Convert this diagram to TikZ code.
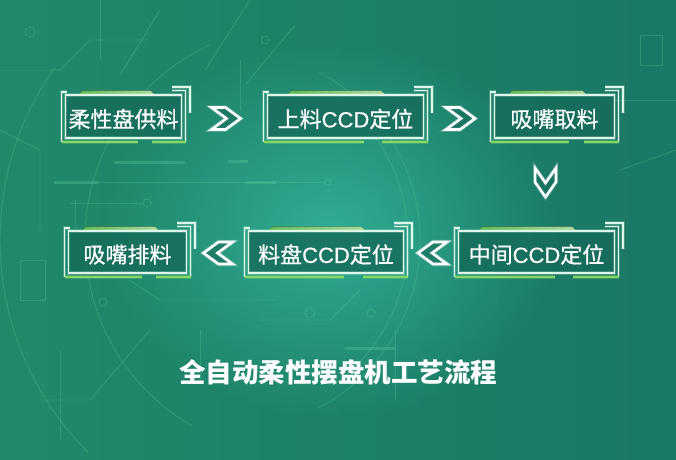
\documentclass[tikz,border=0pt]{standalone}
\usepackage{fontspec}
\newfontfamily\cjk{Noto Sans CJK SC}
\newfontfamily\cjkm{Noto Sans CJK SC}[FakeBold=0.6]
\newfontfamily\latf{Liberation Sans}[FakeBold=0.5]
\usetikzlibrary{calc,fadings}
\definecolor{bgA}{HTML}{21896A}
\definecolor{bgB}{HTML}{1A7866}
\definecolor{glowc}{HTML}{33B59C}
\definecolor{panelc}{HTML}{166B5A}
\definecolor{framec}{HTML}{DDF8E8}
\definecolor{tabA}{HTML}{6ACB5C}
\definecolor{tabB}{HTML}{BFEFAE}
\definecolor{segc}{HTML}{86D766}
\definecolor{decoc}{HTML}{5CD39C}
\tikzfading[name=glowfade, inner color=transparent!0, outer color=transparent!100]
\newcommand\ccdtext{{\latf CCD}}
\tikzset{
  frameline/.style={draw=framec, line width=1.1pt,
    preaction={draw=framec, line width=3.2pt, opacity=0.22}},
  segline/.style={draw=segc, line width=2pt,
    preaction={draw=segc, line width=4.2pt, opacity=0.3}},
  panel/.style={fill=panelc, fill opacity=0.82},
  steptext/.style={text=white, font=\cjkm\fontsize{22}{22}\selectfont, inner sep=0pt},
  titletext/.style={text=white, font=\cjk\bfseries\fontsize{26.5}{26.5}\selectfont, inner sep=0pt},
  chev/.style={draw=white, line width=2.6pt, line join=miter, fill=panelc, fill opacity=0.6,
    preaction={draw=white, line width=4.5pt, opacity=0.2}},
  deco/.style={draw=decoc, draw opacity=0.28, line width=0.9pt},
  decobar/.style={draw=decoc, draw opacity=0.3, line width=3pt},
}
\newcommand\procstep[6]{%
  \pgfmathsetmacro\pbL{#2}\pgfmathsetmacro\pbT{#3}%
  \pgfmathsetmacro\pbR{#4}\pgfmathsetmacro\pbB{#5}%
  \pgfmathsetmacro\pbW{\pbR-\pbL}%
  \pgfmathsetmacro\pbMy{(\pbT+8+\pbB-5)/2}%
  \fill[panel] ({\pbL+6.5},{\pbT+8}) rectangle ({\pbR-8.5},{\pbB-5});
  \fill[left color=tabA, right color=tabB, opacity=0.9]
    ({\pbL+0.15*\pbW},{\pbT+8}) -- ({\pbL+0.18*\pbW},{\pbT+3.5}) --
    ({\pbL+0.70*\pbW},{\pbT+3.5}) -- ({\pbL+0.73*\pbW},{\pbT+8}) -- cycle;
  \draw[frameline] ({\pbL+6.5},{\pbT+8}) rectangle ({\pbR-8.5},{\pbB-5});
  \draw[frameline] ({\pbL+8},{\pbT+5}) -- ({\pbL+2.5},{\pbT+5}) -- ({\pbL+2.5},{\pbB-1});
  \draw[frameline] ({\pbR-18},{\pbT}) -- (\pbR,\pbT) -- (\pbR,{\pbT+26});
  \draw[frameline] ({\pbR-18},{\pbT+3.5}) -- ({\pbR-4.5},{\pbT+3.5}) -- ({\pbR-4.5},{\pbB-1});
  \draw[segline] ({\pbL+2.5},{\pbB-1}) -- ({\pbL+0.60*\pbW},{\pbB-1});
  \draw[segline] ({\pbL+0.71*\pbW},{\pbB-1}) -- ({\pbR-4.5},{\pbB-1});
  \coordinate (#1-L) at (\pbL,\pbMy);
  \coordinate (#1-R) at (\pbR,\pbMy);
  \coordinate (#1-T) at ({(\pbL+\pbR)/2},\pbT);
  \coordinate (#1-B) at ({(\pbL+\pbR)/2},\pbB);
  \node[steptext] (#1) at ({(\pbL+\pbR)/2-1},{\pbMy+2.5}) {#6};
}
\newcommand\chevshape{(-15,-11) -- (-1,-11) -- (14,0) -- (-1,11) -- (-15,11) -- (0,0) -- cycle}
\begin{document}
\begin{tikzpicture}[x=1pt,y=-1pt]
\useasboundingbox (0,0) rectangle (676,459);
% background
\fill[left color=bgA, right color=bgB] (0,0) rectangle (676,459);
\fill[glowc, path fading=glowfade, opacity=0.85] (330,230) ellipse (230 and 190);
% circuit decorations
\begin{scope}
\draw[deco] (300,240) ++(120:215) arc (120:245:215);
\draw[deco] (300,240) ++(135:300) arc (135:215:300);
\draw[deco] (230,240) ++(-62:190) arc (-62:62:190);
\draw[deco] (230,240) ++(-55:178) arc (-55:55:178);
\draw[decobar] (114,162) -- (185,162);
\draw[decobar] (54,182) -- (99,182);
\draw[deco] (99,182) -- (325,182);
\draw[deco] (328,182) circle (3);
\draw[decobar] (246,182) -- (276,182);
\draw[decobar] (228,161) -- (248,161);
\draw[deco] (147,203) circle (4);
\draw[deco] (70,203) -- (143,203);
\draw[deco] (250,0) -- (205,70);
\draw[deco] (295,25) -- (245,85);
\draw[deco] (265,40) circle (4);
\draw[deco] (240,60) -- (240,110);
\draw[deco] (30,32) circle (5);
\draw[deco] (0,70) -- (60,70) -- (90,40) -- (150,40);
\draw[deco] (100,0) -- (100,60);
\draw[deco] (160,10) -- (120,75);
\draw[deco] (0,130) -- (40,150) -- (40,230);
\draw[deco] (20,260) rectangle (45,300);
\draw[deco] (129,280) -- (160,300) -- (276,300);
\draw[deco] (310,313) circle (5);
\draw[deco] (371,313) circle (4);
\draw[deco] (103,302) circle (4);
\draw[decobar] (345,348) -- (395,348);
\draw[deco] (200,330) -- (200,380);
\draw[deco] (260,320) -- (330,320) -- (360,290);
\draw[deco] (150,330) -- (90,400) -- (40,400);
\draw[deco] (60,350) -- (60,440);
\draw[deco] (395,330) -- (395,400);
\draw[deco] (75,200) -- (75,230) -- (95,230);
\draw[deco] (640,35) rectangle (662,65);
\draw[deco] (600,100) -- (676,100);
\draw[deco] (620,170) -- (676,150);
\end{scope}
% process steps
\procstep{s1}{59}{87}{190}{143}{柔性盘供料}
\procstep{s2}{261}{87}{432}{143}{上料\ccdtext 定位}
\procstep{s3}{488}{87}{623}{143}{吸嘴取料}
\procstep{s4}{62}{223}{195}{278}{吸嘴排料}
\procstep{s5}{242}{223}{412}{278}{料盘\ccdtext 定位}
\procstep{s6}{452}{223}{623}{278}{中间\ccdtext 定位}
% chevrons between steps
\coordinate (c12) at ($(s1-R)!0.5!(s2-L)+(1,2)$);
\coordinate (c23) at ($(s2-R)!0.5!(s3-L)+(1,2)$);
\coordinate (c36) at ($(s3-B)!0.5!(s6-T)+(-1,0)$);
\coordinate (c65) at ($(s6-L)!0.5!(s5-R)+(0,1)$);
\coordinate (c54) at ($(s5-L)!0.5!(s4-R)+(-1,1)$);
\draw[chev, shift={(c12)}] \chevshape;
\draw[chev, shift={(c23)}] \chevshape;
\draw[chev, shift={(c36)}, rotate=-90, yscale=0.95] \chevshape;
\draw[chev, shift={(c65)}, xscale=-1] \chevshape;
\draw[chev, shift={(c54)}, xscale=-1] \chevshape;
% title
\node[titletext] (title) at (338,372) {全自动柔性摆盘机工艺流程};
\end{tikzpicture}
\end{document}
